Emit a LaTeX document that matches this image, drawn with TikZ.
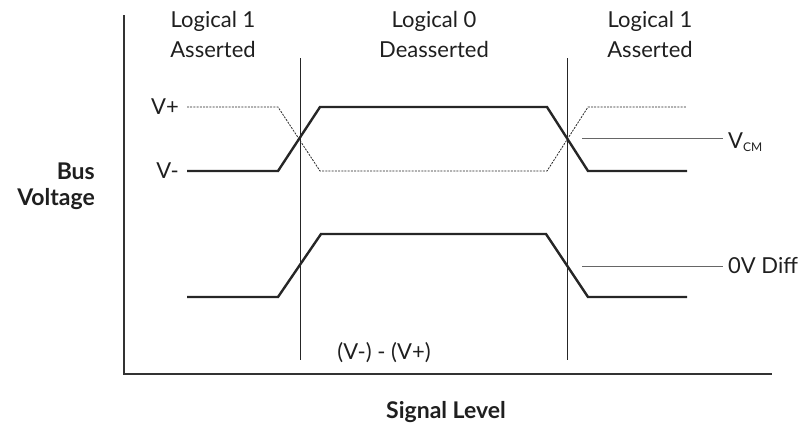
\documentclass[tikz,border=0pt]{standalone}
\usepackage{fontspec}
\setmainfont{Lato}
\begin{document}
\begin{tikzpicture}[x=1pt,y=-1pt,
  lbl/.style={font=\fontsize{22}{30}\selectfont, align=center, text=black!88, inner sep=0pt},
  boldlbl/.style={font=\fontsize{23}{26}\selectfont\bfseries, text=black!88, inner sep=0pt},
  sig/.style={line width=2.4pt, black!85, line join=miter},
  dsig/.style={line width=0.8pt, black!85, dash pattern=on 2pt off 1.2pt},
  divider/.style={line width=0.9pt, black!85},
  refline/.style={line width=0.9pt, black!60},
  axis/.style={line width=1.4pt, black!80}]
\useasboundingbox (0,0) rectangle (804,432);
% axes
\coordinate (ytop) at (124,15);
\coordinate (orig) at (124,374);
\coordinate (xend) at (772,374);
\draw[axis] (ytop) -- (orig) -- (xend);
% dividers
\coordinate (d1t) at (300,58); \coordinate (d1b) at (300,360);
\coordinate (d2t) at (567,58); \coordinate (d2b) at (567,360);
\draw[divider] (d1t) -- (d1b);
\draw[divider] (d2t) -- (d2b);
% headers
\node[lbl] (h1) at (213,34) {Logical 1\\Asserted};
\node[lbl] (h2) at (434,34) {Logical 0\\Deasserted};
\node[lbl] (h3) at (650,34) {Logical 1\\Asserted};
% V+ / V- labels
\node[lbl, anchor=east] (vp) at (179,107) {V+};
\node[lbl, anchor=east] (vm) at (179,171) {V-};
\coordinate (vps) at (187,107);
\coordinate (vms) at (187,171);
% top signals
\draw[dsig] (vps) -- (278,107) -- (320,171) -- (547,171) -- (588,107) -- (687,107);
\draw[sig] (vms) -- (278,171) -- (320,107) -- (547,107) -- (588,171) -- (687,171);
% VCM
\node[lbl, anchor=west] (vcm) at (728,142) {V\textsubscript{\fontsize{12}{12}\selectfont CM}};
\coordinate (vcms) at (582,138);
\draw[refline] (vcms) -- ([xshift=-5pt]vcm.west |- vcms);
% lower signal
\draw[sig] (187,297) -- (278,297) -- (321,234) -- (546,234) -- (588,297) -- (687,297);
\node[lbl, anchor=west] (zd) at (728,266) {0V Diff};
\coordinate (zds) at (582,266);
\draw[refline] (zds) -- ([xshift=-5pt]zd.west);
% difference label
\node[lbl] (diff) at (384,353) {(V-) - (V+)};
% axis titles
\node[boldlbl, align=right, anchor=east] (bv) at (95,186) {Bus\\Voltage};
\node[boldlbl] (sl) at (446,412) {Signal Level};
\end{tikzpicture}
\end{document}
